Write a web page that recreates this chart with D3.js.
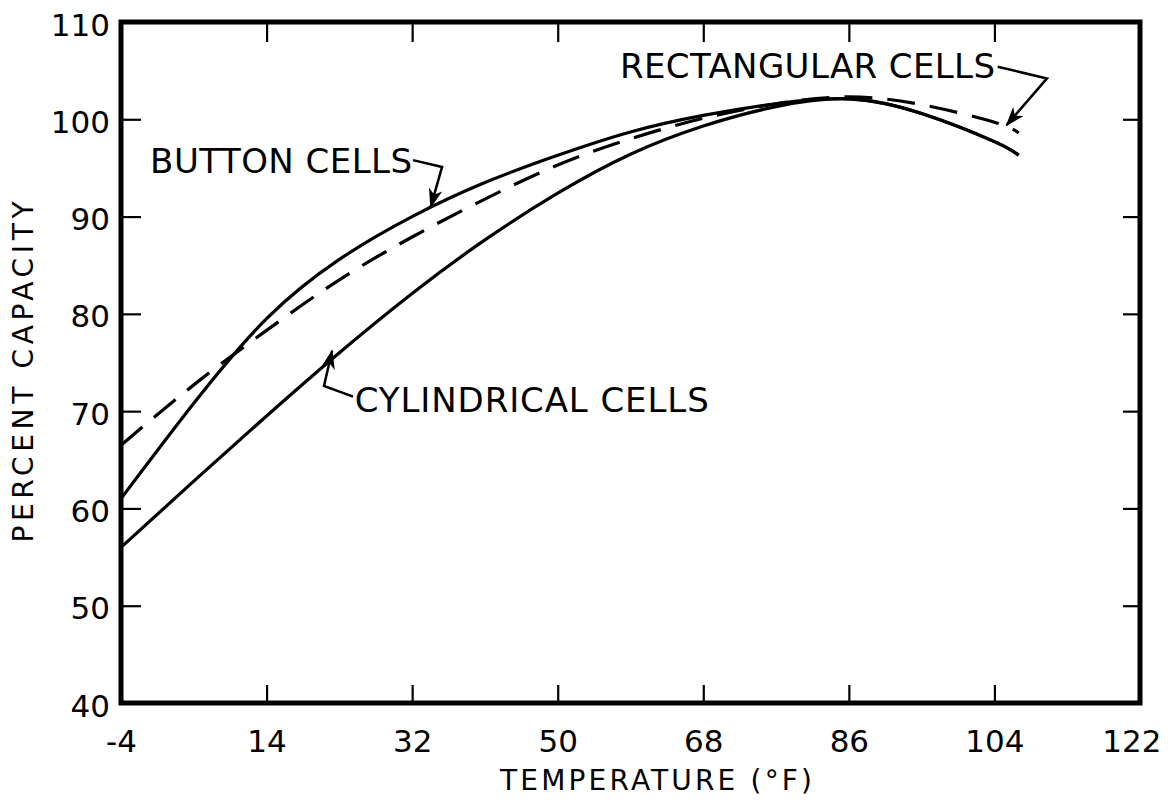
<!DOCTYPE html>
<html>
<head>
<meta charset="utf-8">
<script src="https://cdn.jsdelivr.net/npm/d3@7"></script>
<style>
  body { margin: 0; background: #fff; }
  text { font-family: "DejaVu Sans", sans-serif; fill: #000; }
</style>
</head>
<body>
<div id="chart-area"></div>
<script>
var temps = [-4, 5, 14, 23, 32, 41, 50, 59, 68, 77, 86, 95, 104, 107];
var buttonCells = [61, 70.8, 79.5, 85.6, 90.0, 93.5, 96.3, 98.7, 100.4, 101.6, 102.1, 100.6, 97.7, 96.3];
var cylindricalCells = [56, 62.8, 69.5, 76.0, 82.1, 87.6, 92.4, 96.4, 99.3, 101.3, 102.1, 100.6, 97.7, 96.3];
var rectangularCells = [66.5, 72.7, 78.3, 83.5, 87.9, 91.8, 95.3, 98.0, 100.1, 101.6, 102.3, 101.5, 99.7, 98.6];
var xTicks = [-4, 14, 32, 50, 68, 86, 104, 122];
var yTicks = [40, 50, 60, 70, 80, 90, 100, 110];

var mwidth = 1019;
var mheight = 681;
var margin = {top: 22, right: 28, bottom: 101, left: 121};

var svg = d3.select("#chart-area").append("svg")
	.attr("width", mwidth + margin.left + margin.right)
	.attr("height", mheight + margin.top + margin.bottom);

var g = svg.append("g")
	.attr("transform", "translate(" + margin.left + ", " + margin.top + ")");

var x = d3.scaleLinear().domain([-4, 122]).range([0, mwidth]);
var y = d3.scaleLinear().domain([40, 110]).range([mheight, 0]);

// arrow head for the label leaders
svg.append("defs").append("marker")
	.attr("id", "arrow")
	.attr("viewBox", "0 -5 14 10")
	.attr("refX", 13)
	.attr("refY", 0)
	.attr("markerUnits", "userSpaceOnUse")
	.attr("markerWidth", 20)
	.attr("markerHeight", 14)
	.attr("orient", "auto")
	.append("path")
		.attr("d", "M0,-5L14,0L0,5L4,0Z")
		.attr("fill", "#000");

// axes, ticks inside the frame
var bottomAxis = g.append("g")
	.attr("transform", "translate(0, " + mheight + ")")
	.call(d3.axisBottom(x).tickValues(xTicks).tickSize(-18).tickPadding(49)
		.tickFormat(function(d) { return d; }));
bottomAxis.selectAll("text").attr("font-size", "31px").attr("dy", "0");
// last label would run off the page, keep it inside
bottomAxis.selectAll("text")
	.filter(function(d) { return d === 122; })
	.attr("text-anchor", "end")
	.attr("x", 21);

var leftAxis = g.append("g")
	.call(d3.axisLeft(y).tickValues(yTicks).tickSize(-20).tickPadding(11));
leftAxis.selectAll("text").attr("font-size", "31px").attr("dy", "0.42em");

g.append("g")
	.call(d3.axisTop(x).tickValues(xTicks).tickSize(-20).tickFormat(""));
g.append("g")
	.attr("transform", "translate(" + mwidth + ", 0)")
	.call(d3.axisRight(y).tickValues(yTicks).tickSize(-17).tickFormat(""));

g.selectAll(".domain").remove();
g.selectAll(".tick line").attr("stroke", "#000").attr("stroke-width", 2.2);
g.selectAll(".tick text").attr("fill", "#000").attr("font-family", "DejaVu Sans");

g.append("rect")
	.attr("x", x(-4))
	.attr("y", y(110))
	.attr("width", x(122) - x(-4))
	.attr("height", y(40) - y(110))
	.attr("fill", "none")
	.attr("stroke", "#000")
	.attr("stroke-width", 5);

// curves
var line = d3.line()
	.x(function(d) { return x(d[0]); })
	.y(function(d) { return y(d[1]); })
	.curve(d3.curveNatural);

var series = [
	{name: "button", values: buttonCells, dash: null},
	{name: "cylindrical", values: cylindricalCells, dash: null},
	{name: "rectangular", values: rectangularCells, dash: "28,15"}
];

g.selectAll(".curve")
	.data(series)
	.enter()
	.append("path")
		.attr("class", "curve")
		.attr("fill", "none")
		.attr("stroke", "#000")
		.attr("stroke-width", 3.2)
		.attr("stroke-dasharray", function(d) { return d.dash; })
		.attr("d", function(d) {
			return line(temps.map(function(t, i) { return [t, d.values[i]]; }));
		});

// labels with leaders, positions in data units
var labels = [
	{text: "BUTTON CELLS", at: [-0.4, 94.5], len: 262, leader: [[32.1, 95.8], [35.7, 95.1], [34.3, 91.0]]},
	{text: "RECTANGULAR CELLS", at: [57.7, 104.2], len: 375, leader: [[104.4, 105.4], [110.5, 104.2], [105.5, 99.4]]},
	{text: "CYLINDRICAL CELLS", at: [24.9, 69.9], len: 354, leader: [[24.7, 71.5], [21.1, 72.6], [22.1, 76.2]]}
];

var leaderLine = d3.line()
	.x(function(d) { return x(d[0]); })
	.y(function(d) { return y(d[1]); });

labels.forEach(function(l) {
	g.append("text")
		.attr("x", x(l.at[0]))
		.attr("y", y(l.at[1]))
		.attr("font-size", "34px")
		.attr("textLength", l.len)
		.attr("lengthAdjust", "spacing")
		.text(l.text);
	g.append("path")
		.attr("d", leaderLine(l.leader))
		.attr("fill", "none")
		.attr("stroke", "#000")
		.attr("stroke-width", 2.5)
		.attr("marker-end", "url(#arrow)");
});

// axis titles
g.append("text")
	.attr("x", 656 - margin.left)
	.attr("y", mheight + 87)
	.attr("font-size", "28px")
	.attr("text-anchor", "middle")
	.attr("textLength", 312)
	.attr("lengthAdjust", "spacing")
	.text("TEMPERATURE (°F)");

g.append("text")
	.attr("transform", "rotate(-90)")
	.attr("x", -(372 - margin.top))
	.attr("y", 33 - margin.left)
	.attr("font-size", "28px")
	.attr("text-anchor", "middle")
	.attr("textLength", 341)
	.attr("lengthAdjust", "spacing")
	.text("PERCENT CAPACITY");
</script>
</body>
</html>
